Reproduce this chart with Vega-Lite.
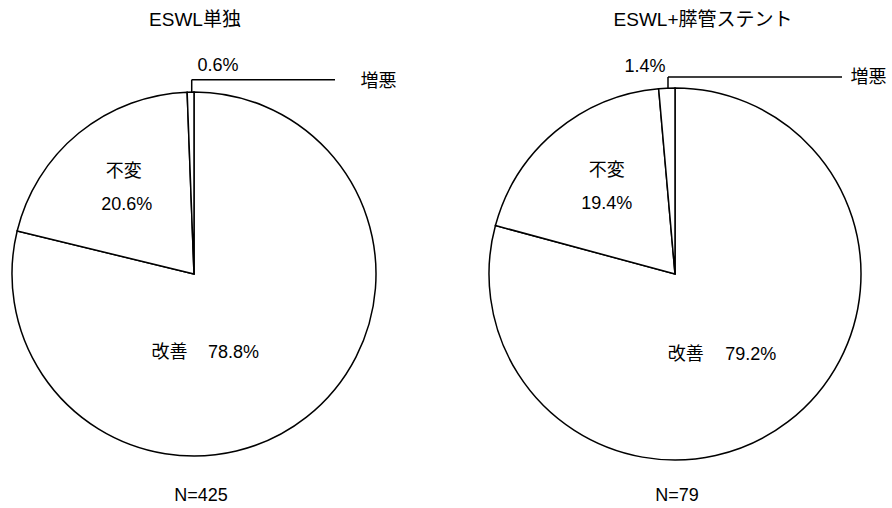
{
  "$schema": "https://vega.github.io/schema/vega-lite/v6.json",
  "background": "white",
  "padding": {"left": 0, "top": 11, "right": 0, "bottom": 0},
  "bounds": "flush",
  "spacing": 93,
  "config": {
    "view": {"stroke": null},
    "font": "Liberation Sans, Noto Sans CJK JP, sans-serif",
    "title": {"fontSize": 19, "fontWeight": "normal", "color": "black", "offset": 12, "font": "Liberation Sans, Noto Sans CJK JP, sans-serif"},
    "text": {"fontSize": 18, "color": "black", "font": "Liberation Sans, Noto Sans CJK JP, sans-serif"}
  },
  "datasets": {
    "pies": [
      {"group": "ESWL単独", "category": "改善", "share": 0.788},
      {"group": "ESWL単独", "category": "不変", "share": 0.206},
      {"group": "ESWL単独", "category": "増悪", "share": 0.006},
      {"group": "ESWL+膵管ステント", "category": "改善", "share": 0.792},
      {"group": "ESWL+膵管ステント", "category": "不変", "share": 0.194},
      {"group": "ESWL+膵管ステント", "category": "増悪", "share": 0.014}
    ],
    "totals": [
      {"group": "ESWL単独", "label": "N=425"},
      {"group": "ESWL+膵管ステント", "label": "N=79"}
    ]
  },
  "hconcat": [
    {
      "width": 388,
      "height": 464,
      "title": {"text": "ESWL単独", "dx": 1},
      "data": {"name": "pies"},
      "transform": [{"filter": "datum.group === 'ESWL単独'"}],
      "layer": [
        {
          "mark": {"type": "arc", "radius": 182, "fill": "white", "stroke": "black", "strokeWidth": 1.5},
          "encoding": {
            "theta": {"field": "share", "type": "quantitative", "stack": true},
            "order": {"field": "share", "sort": "descending"}
          }
        },
        {
          "mark": {"type": "text", "radius": 80, "dx": -74, "dy": 16, "align": "center", "baseline": "middle"},
          "encoding": {
            "theta": {"field": "share", "type": "quantitative", "stack": true},
            "order": {"field": "share", "sort": "descending"},
            "text": {"condition": {"test": "datum.category === '改善'", "field": "category"}, "value": ""}
          }
        },
        {
          "mark": {"type": "text", "radius": 80, "dx": -10, "dy": 16, "align": "center", "baseline": "middle"},
          "encoding": {
            "theta": {"field": "share", "type": "quantitative", "stack": true},
            "order": {"field": "share", "sort": "descending"},
            "text": {"condition": {"test": "datum.category === '改善'", "field": "share", "type": "quantitative", "format": ".1%"}, "value": ""}
          }
        },
        {
          "mark": {"type": "text", "radius": 100, "dx": -7, "dy": -25, "align": "center", "baseline": "middle"},
          "encoding": {
            "theta": {"field": "share", "type": "quantitative", "stack": true},
            "order": {"field": "share", "sort": "descending"},
            "text": {"condition": {"test": "datum.category === '不変'", "field": "category"}, "value": ""}
          }
        },
        {
          "mark": {"type": "text", "radius": 100, "dx": -4, "dy": 8, "align": "center", "baseline": "middle"},
          "encoding": {
            "theta": {"field": "share", "type": "quantitative", "stack": true},
            "order": {"field": "share", "sort": "descending"},
            "text": {"condition": {"test": "datum.category === '不変'", "field": "share", "type": "quantitative", "format": ".1%"}, "value": ""}
          }
        },
        {
          "mark": {"type": "text", "radius": 208, "dx": 28, "dy": 0, "align": "center", "baseline": "middle"},
          "encoding": {
            "theta": {"field": "share", "type": "quantitative", "stack": true},
            "order": {"field": "share", "sort": "descending"},
            "text": {"condition": {"test": "datum.category === '増悪'", "field": "share", "type": "quantitative", "format": ".1%"}, "value": ""}
          }
        },
        {
          "mark": {"type": "text", "radius": 192, "dx": 188, "dy": 0, "align": "center", "baseline": "middle"},
          "encoding": {
            "theta": {"field": "share", "type": "quantitative", "stack": true},
            "order": {"field": "share", "sort": "descending"},
            "text": {"condition": {"test": "datum.category === '増悪'", "field": "category"}, "value": ""}
          }
        },
        {
          "transform": [{"filter": "datum.category === '増悪'"}],
          "mark": {"type": "rule", "color": "black", "strokeWidth": 1.5},
          "encoding": {
            "x": {"datum": -0.0126, "type": "quantitative", "scale": {"domain": [-1.0659, 1.0659], "nice": false, "zero": false}, "axis": null},
            "y": {"datum": 1.0, "type": "quantitative", "scale": {"domain": [-1.2747, 1.2747], "nice": false, "zero": false}, "axis": null},
            "y2": {"datum": 1.0676}
          }
        },
        {
          "transform": [{"filter": "datum.category === '増悪'"}],
          "mark": {"type": "rule", "color": "black", "strokeWidth": 1.5},
          "encoding": {
            "x": {"datum": -0.0126, "type": "quantitative"},
            "x2": {"datum": 0.7747},
            "y": {"datum": 1.0676, "type": "quantitative"}
          }
        },
        {
          "data": {"name": "totals"},
          "transform": [{"filter": "datum.group === 'ESWL単独'"}],
          "mark": {"type": "text", "align": "center", "baseline": "middle"},
          "encoding": {
            "x": {"datum": 0.0385, "type": "quantitative"},
            "y": {"datum": -1.2198, "type": "quantitative"},
            "text": {"field": "label"}
          }
        }
      ]
    },
    {
      "width": 388,
      "height": 464,
      "title": {"text": "ESWL+膵管ステント", "dx": 28},
      "data": {"name": "pies"},
      "transform": [{"filter": "datum.group === 'ESWL+膵管ステント'"}],
      "layer": [
        {
          "mark": {"type": "arc", "radius": 186, "fill": "white", "stroke": "black", "strokeWidth": 1.5},
          "encoding": {
            "theta": {"field": "share", "type": "quantitative", "stack": true},
            "order": {"field": "share", "sort": "descending"}
          }
        },
        {
          "mark": {"type": "text", "radius": 90, "dx": -44, "dy": 10, "align": "center", "baseline": "middle"},
          "encoding": {
            "theta": {"field": "share", "type": "quantitative", "stack": true},
            "order": {"field": "share", "sort": "descending"},
            "text": {"condition": {"test": "datum.category === '改善'", "field": "category"}, "value": ""}
          }
        },
        {
          "mark": {"type": "text", "radius": 90, "dx": 21, "dy": 10, "align": "center", "baseline": "middle"},
          "encoding": {
            "theta": {"field": "share", "type": "quantitative", "stack": true},
            "order": {"field": "share", "sort": "descending"},
            "text": {"condition": {"test": "datum.category === '改善'", "field": "share", "type": "quantitative", "format": ".1%"}, "value": ""}
          }
        },
        {
          "mark": {"type": "text", "radius": 100, "dx": -4, "dy": -26, "align": "center", "baseline": "middle"},
          "encoding": {
            "theta": {"field": "share", "type": "quantitative", "stack": true},
            "order": {"field": "share", "sort": "descending"},
            "text": {"condition": {"test": "datum.category === '不変'", "field": "category"}, "value": ""}
          }
        },
        {
          "mark": {"type": "text", "radius": 100, "dx": -4, "dy": 7, "align": "center", "baseline": "middle"},
          "encoding": {
            "theta": {"field": "share", "type": "quantitative", "stack": true},
            "order": {"field": "share", "sort": "descending"},
            "text": {"condition": {"test": "datum.category === '不変'", "field": "share", "type": "quantitative", "format": ".1%"}, "value": ""}
          }
        },
        {
          "mark": {"type": "text", "radius": 207, "dx": -21, "dy": 0, "align": "center", "baseline": "middle"},
          "encoding": {
            "theta": {"field": "share", "type": "quantitative", "stack": true},
            "order": {"field": "share", "sort": "descending"},
            "text": {"condition": {"test": "datum.category === '増悪'", "field": "share", "type": "quantitative", "format": ".1%"}, "value": ""}
          }
        },
        {
          "mark": {"type": "text", "radius": 196, "dx": 202, "dy": 0, "align": "center", "baseline": "middle"},
          "encoding": {
            "theta": {"field": "share", "type": "quantitative", "stack": true},
            "order": {"field": "share", "sort": "descending"},
            "text": {"condition": {"test": "datum.category === '増悪'", "field": "category"}, "value": ""}
          }
        },
        {
          "transform": [{"filter": "datum.category === '増悪'"}],
          "mark": {"type": "rule", "color": "black", "strokeWidth": 1.5},
          "encoding": {
            "x": {"datum": -0.0385, "type": "quantitative", "scale": {"domain": [-1.0659, 1.0659], "nice": false, "zero": false}, "axis": null},
            "y": {"datum": 1.022, "type": "quantitative", "scale": {"domain": [-1.2747, 1.2747], "nice": false, "zero": false}, "axis": null},
            "y2": {"datum": 1.0824}
          }
        },
        {
          "transform": [{"filter": "datum.category === '増悪'"}],
          "mark": {"type": "rule", "color": "black", "strokeWidth": 1.5},
          "encoding": {
            "x": {"datum": -0.0385, "type": "quantitative"},
            "x2": {"datum": 0.9176},
            "y": {"datum": 1.0824, "type": "quantitative"}
          }
        },
        {
          "data": {"name": "totals"},
          "transform": [{"filter": "datum.group === 'ESWL+膵管ステント'"}],
          "mark": {"type": "text", "align": "center", "baseline": "middle"},
          "encoding": {
            "x": {"datum": 0.011, "type": "quantitative"},
            "y": {"datum": -1.2198, "type": "quantitative"},
            "text": {"field": "label"}
          }
        }
      ]
    }
  ]
}
